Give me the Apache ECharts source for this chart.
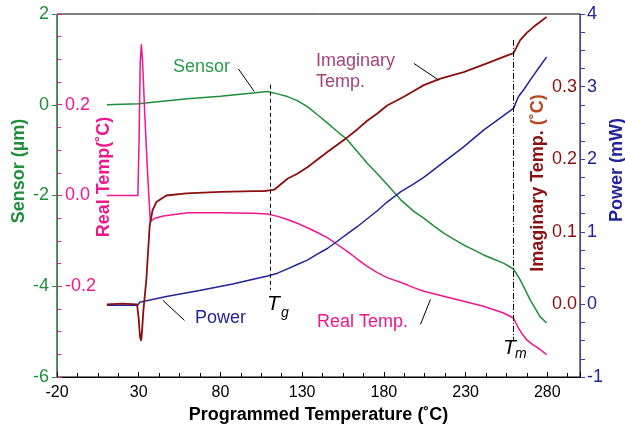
<!DOCTYPE html>
<html>
<head>
<meta charset="utf-8">
<script src="https://cdn.jsdelivr.net/npm/echarts@6/dist/echarts.min.js"></script>
<style>
  html, body { margin: 0; padding: 0; background: #fff; }
  #chart { width: 625px; height: 429px; }
</style>
</head>
<body>
<div id="chart"></div>
<script>
/* ---------------- Data ---------------- */
// [programmed temperature (°C), value]
const sensorData = [
  [10.5, 0.0], [20, 0.01], [30, 0.02], [40, 0.06], [60, 0.13], [80, 0.19], [100, 0.26],
  [108.7, 0.29], [115, 0.24], [121, 0.18], [127, 0.09], [133.2, -0.04], [139, -0.21],
  [145.4, -0.40], [151.5, -0.59], [157.6, -0.77], [163.7, -1.03], [169.8, -1.29],
  [176, -1.52], [182, -1.76], [190.2, -2.09], [198.3, -2.35], [204.4, -2.50],
  [210.5, -2.67], [216.6, -2.83], [222.7, -2.96], [228.8, -3.09], [235, -3.20],
  [241, -3.31], [247, -3.40], [253.2, -3.49], [259.3, -3.62], [263.4, -3.86],
  [266.5, -4.08], [269.5, -4.30], [272.5, -4.48], [275.5, -4.67], [279.6, -4.81]
];
const realTempData = [
  [10.5, 0.0], [20, 0.0], [29.5, 0.0], [30.2, 0.12], [30.9, 0.29], [31.6, 0.333],
  [32.3, 0.30], [33.7, 0.18], [35.3, 0.057], [37.1, -0.057], [40, -0.05], [45, -0.045],
  [60, -0.038], [80, -0.038], [100, -0.039], [108.8, -0.041], [115, -0.046],
  [121, -0.053], [127, -0.061], [133.2, -0.071], [139, -0.081], [145.4, -0.093],
  [151.5, -0.108], [157.6, -0.123], [163.7, -0.140], [169.8, -0.156], [176, -0.170],
  [182, -0.181], [192.2, -0.194], [198.3, -0.203], [204.4, -0.211], [216.6, -0.222],
  [228.8, -0.233], [241, -0.244], [253.2, -0.259], [259.3, -0.270], [262.3, -0.292],
  [265, -0.307], [267.4, -0.318], [270.5, -0.327], [273.5, -0.334], [276.5, -0.342],
  [279.6, -0.351]
];
const imagTempData = [
  [10.5, 0.0], [20, 0.001], [29.0, 0.0], [30.0, -0.02], [30.8, -0.045], [31.5, -0.05],
  [32.1, -0.035], [32.8, -0.01], [34.7, 0.035], [36.7, 0.108], [38.5, 0.13],
  [40.8, 0.141], [46.9, 0.150], [59.1, 0.153], [80, 0.155], [100.7, 0.156],
  [106.8, 0.156], [112.9, 0.158], [121, 0.173], [127, 0.180], [133.2, 0.189],
  [139, 0.199], [145.4, 0.210], [151.5, 0.220], [157.6, 0.230], [163.7, 0.241],
  [169.8, 0.253], [176, 0.263], [182, 0.274], [192.2, 0.286], [198.3, 0.294],
  [204.4, 0.302], [214.6, 0.311], [228.8, 0.320], [243, 0.332], [253.2, 0.341],
  [259.3, 0.346], [263.4, 0.364], [267.4, 0.374], [271.5, 0.382], [275.5, 0.389],
  [279.6, 0.396]
];
const powerData = [
  [10.5, -0.01], [29.4, -0.01], [30.6, 0.03], [46.9, 0.11], [67.2, 0.19], [87.5, 0.28],
  [100.7, 0.35], [108.8, 0.39], [115, 0.43], [121, 0.49], [127, 0.55], [133.2, 0.61],
  [139, 0.69], [145.4, 0.77], [151.5, 0.87], [157.6, 0.97], [163.7, 1.07],
  [169.8, 1.18], [176, 1.29], [182, 1.41], [190.2, 1.55], [198.3, 1.66],
  [204.4, 1.75], [216.6, 1.96], [228.8, 2.17], [241, 2.40], [253.2, 2.60],
  [259.3, 2.70], [262.3, 2.86], [266, 2.97], [269.5, 3.09], [274.5, 3.25], [279.6, 3.41]
];

// transition markers
const tg = 110.3;
const tm = 259.3;

/* ---------------- Colours ---------------- */
const FONT = "'Liberation Sans', Arial, sans-serif";
const GREEN = "#1f8f3a";
const PINK = "#f0168c";
const MAROON = "#8b0f0f";
const NAVY = "#23239a";

const leader = (a, b) => [{ coord: a }, { coord: b }];

const chart = echarts.init(document.getElementById("chart"));

const option = {
  animation: false,
  grid: {
    left: 57, right: 45, top: 14, bottom: 52,
    show: true, borderColor: "#000", borderWidth: 1
  },
  xAxis: {
    type: "value",
    min: -20, max: 300, interval: 50,
    name: "Programmed Temperature (˚C)",
    nameLocation: "middle",
    nameGap: 28,
    nameTextStyle: { fontFamily: FONT, fontSize: 18, fontWeight: "bold", color: "#000" },
    axisLine: { onZero: false, lineStyle: { color: "#000" } },
    axisTick: { inside: true, length: 5, lineStyle: { color: "#000" } },
    minorTick: { show: true, splitNumber: 4, length: 4, lineStyle: { color: "#000" } },
    axisLabel: { fontFamily: FONT, fontSize: 16, color: "#000", margin: 8, showMaxLabel: false },
    splitLine: { show: false }
  },
  yAxis: [
    {
      type: "value", position: "left",
      min: -6, max: 2, interval: 2,
      axisLine: { show: true, onZero: false, lineStyle: { color: GREEN } },
      axisTick: { show: true, length: 5, lineStyle: { color: GREEN } },
      axisLabel: { fontFamily: FONT, fontSize: 18, color: GREEN, margin: 8 },
      splitLine: { show: false }
    },
    {
      type: "value", position: "left",
      min: -0.4, max: 0.4, interval: 0.2,
      axisLine: { show: false, onZero: false },
      axisTick: { show: true, inside: true, length: 5, lineStyle: { color: PINK } },
      minorTick: { show: true, splitNumber: 4, length: 4, lineStyle: { color: PINK } },
      axisLabel: {
        inside: true, margin: 8, fontFamily: FONT, fontSize: 18, color: PINK,
        formatter: v => (Math.abs(v) > 0.3 ? "" : v.toFixed(1))
      },
      splitLine: { show: false }
    },
    {
      type: "value", position: "right",
      min: -0.1, max: 0.4, interval: 0.1,
      axisLine: { show: false, onZero: false },
      axisTick: { show: false },
      axisLabel: {
        inside: true, margin: 3, fontFamily: FONT, fontSize: 18, color: MAROON,
        formatter: v => (v < -0.05 || v > 0.35 ? "" : v.toFixed(1))
      },
      splitLine: { show: false }
    },
    {
      type: "value", position: "right",
      min: -1, max: 4, interval: 1,
      axisLine: { show: true, onZero: false, lineStyle: { color: "#4040a8" } },
      axisTick: { show: true, length: 5, lineStyle: { color: "#4040a8" } },
      minorTick: { show: true, splitNumber: 4, length: 5, lineStyle: { color: "#4040a8" } },
      axisLabel: { fontFamily: FONT, fontSize: 18, color: NAVY, margin: 7 },
      splitLine: { show: false }
    }
  ],
  series: [
    {
      name: "Sensor", type: "line", yAxisIndex: 0, data: sensorData,
      showSymbol: false, lineStyle: { color: GREEN, width: 1.5 }, z: 3,
      markLine: {
        silent: true, symbol: ["none", "none"], label: { show: false },
        lineStyle: { color: "#000", width: 1, type: "solid" },
        data: [
          leader([91.0, 0.79], [100.7, 0.29]),
          [{ coord: [tg, 0.44], lineStyle: { type: [4, 3] } }, { coord: [tg, -4.08] }],
          [{ coord: [tm, 1.43], lineStyle: { type: [6, 2, 1, 2] } }, { coord: [tm, -5.18] }]
        ]
      }
    },
    {
      name: "Real Temp.", type: "line", yAxisIndex: 1, data: realTempData,
      showSymbol: false, lineStyle: { color: PINK, width: 1.5 }, z: 3,
      markLine: {
        silent: true, symbol: ["none", "none"], label: { show: false },
        lineStyle: { color: "#000", width: 1, type: "solid" },
        data: [leader([202.4, -0.284], [208.5, -0.229])]
      }
    },
    {
      name: "Imaginary Temp.", type: "line", yAxisIndex: 2, data: imagTempData,
      showSymbol: false, lineStyle: { color: MAROON, width: 1.8 }, z: 4,
      markLine: {
        silent: true, symbol: ["none", "none"], label: { show: false },
        lineStyle: { color: "#000", width: 1, type: "solid" },
        data: [leader([198.3, 0.332], [213.5, 0.309])]
      }
    },
    {
      name: "Power", type: "line", yAxisIndex: 3, data: powerData,
      showSymbol: false, lineStyle: { color: NAVY, width: 1.5 }, z: 3,
      markLine: {
        silent: true, symbol: ["none", "none"], label: { show: false },
        lineStyle: { color: "#000", width: 1, type: "solid" },
        data: [leader([44.8, 0.055], [58.0, -0.22])]
      }
    }
  ],
  graphic: [
    // rotated axis titles
    {
      type: "text", x: 19, y: 171, rotation: Math.PI / 2,
      style: { text: "Sensor (µm)", fill: GREEN, font: "bold 18px " + FONT,
        align: "center", verticalAlign: "middle", textAlign: "center", textVerticalAlign: "middle" }
    },
    {
      type: "text", x: 104, y: 177, rotation: Math.PI / 2,
      style: { text: "Real Temp(˚C)", fill: PINK, font: "bold 18px " + FONT,
        align: "center", verticalAlign: "middle", textAlign: "center", textVerticalAlign: "middle" }
    },
    {
      type: "text", x: 538, y: 183, rotation: Math.PI / 2,
      style: {
        text: "{a|Imaginary Temp. }{b|(˚C)}",
        align: "center", verticalAlign: "middle", textAlign: "center", textVerticalAlign: "middle",
        rich: {
          a: { fill: MAROON, color: MAROON, font: "bold 18px " + FONT },
          b: { fill: "#b8461e", color: "#b8461e", font: "bold 18px " + FONT }
        }
      }
    },
    {
      type: "text", x: 617, y: 170, rotation: Math.PI / 2,
      style: { text: "Power (mW)", fill: NAVY, font: "bold 18px " + FONT,
        align: "center", verticalAlign: "middle", textAlign: "center", textVerticalAlign: "middle" }
    },
    // series annotations
    {
      type: "text", x: 173, y: 67,
      style: { text: "Sensor", fill: "#2a9a48", font: "18px " + FONT, verticalAlign: "middle", textVerticalAlign: "middle" }
    },
    {
      type: "text", x: 316, y: 72,
      style: { text: "Imaginary\nTemp.", fill: "#a3457a", font: "18px " + FONT, lineHeight: 21,
        verticalAlign: "middle", textVerticalAlign: "middle" }
    },
    {
      type: "text", x: 195, y: 318,
      style: { text: "Power", fill: NAVY, font: "18px " + FONT, verticalAlign: "middle", textVerticalAlign: "middle" }
    },
    {
      type: "text", x: 317, y: 322,
      style: { text: "Real Temp.", fill: PINK, font: "18px " + FONT, verticalAlign: "middle", textVerticalAlign: "middle" }
    },
    // transition labels
    {
      type: "text", x: 267, y: 304,
      style: { text: "T", fill: "#000", font: "italic 21px " + FONT, verticalAlign: "middle", textVerticalAlign: "middle" }
    },
    {
      type: "text", x: 281, y: 313,
      style: { text: "g", fill: "#000", font: "italic 14px " + FONT, verticalAlign: "middle", textVerticalAlign: "middle" }
    },
    {
      type: "text", x: 503, y: 348,
      style: { text: "T", fill: "#000", font: "italic 21px " + FONT, verticalAlign: "middle", textVerticalAlign: "middle" }
    },
    {
      type: "text", x: 515, y: 354,
      style: { text: "m", fill: "#000", font: "italic 14px " + FONT, verticalAlign: "middle", textVerticalAlign: "middle" }
    }
  ]
};

chart.setOption(option);
</script>
</body>
</html>
